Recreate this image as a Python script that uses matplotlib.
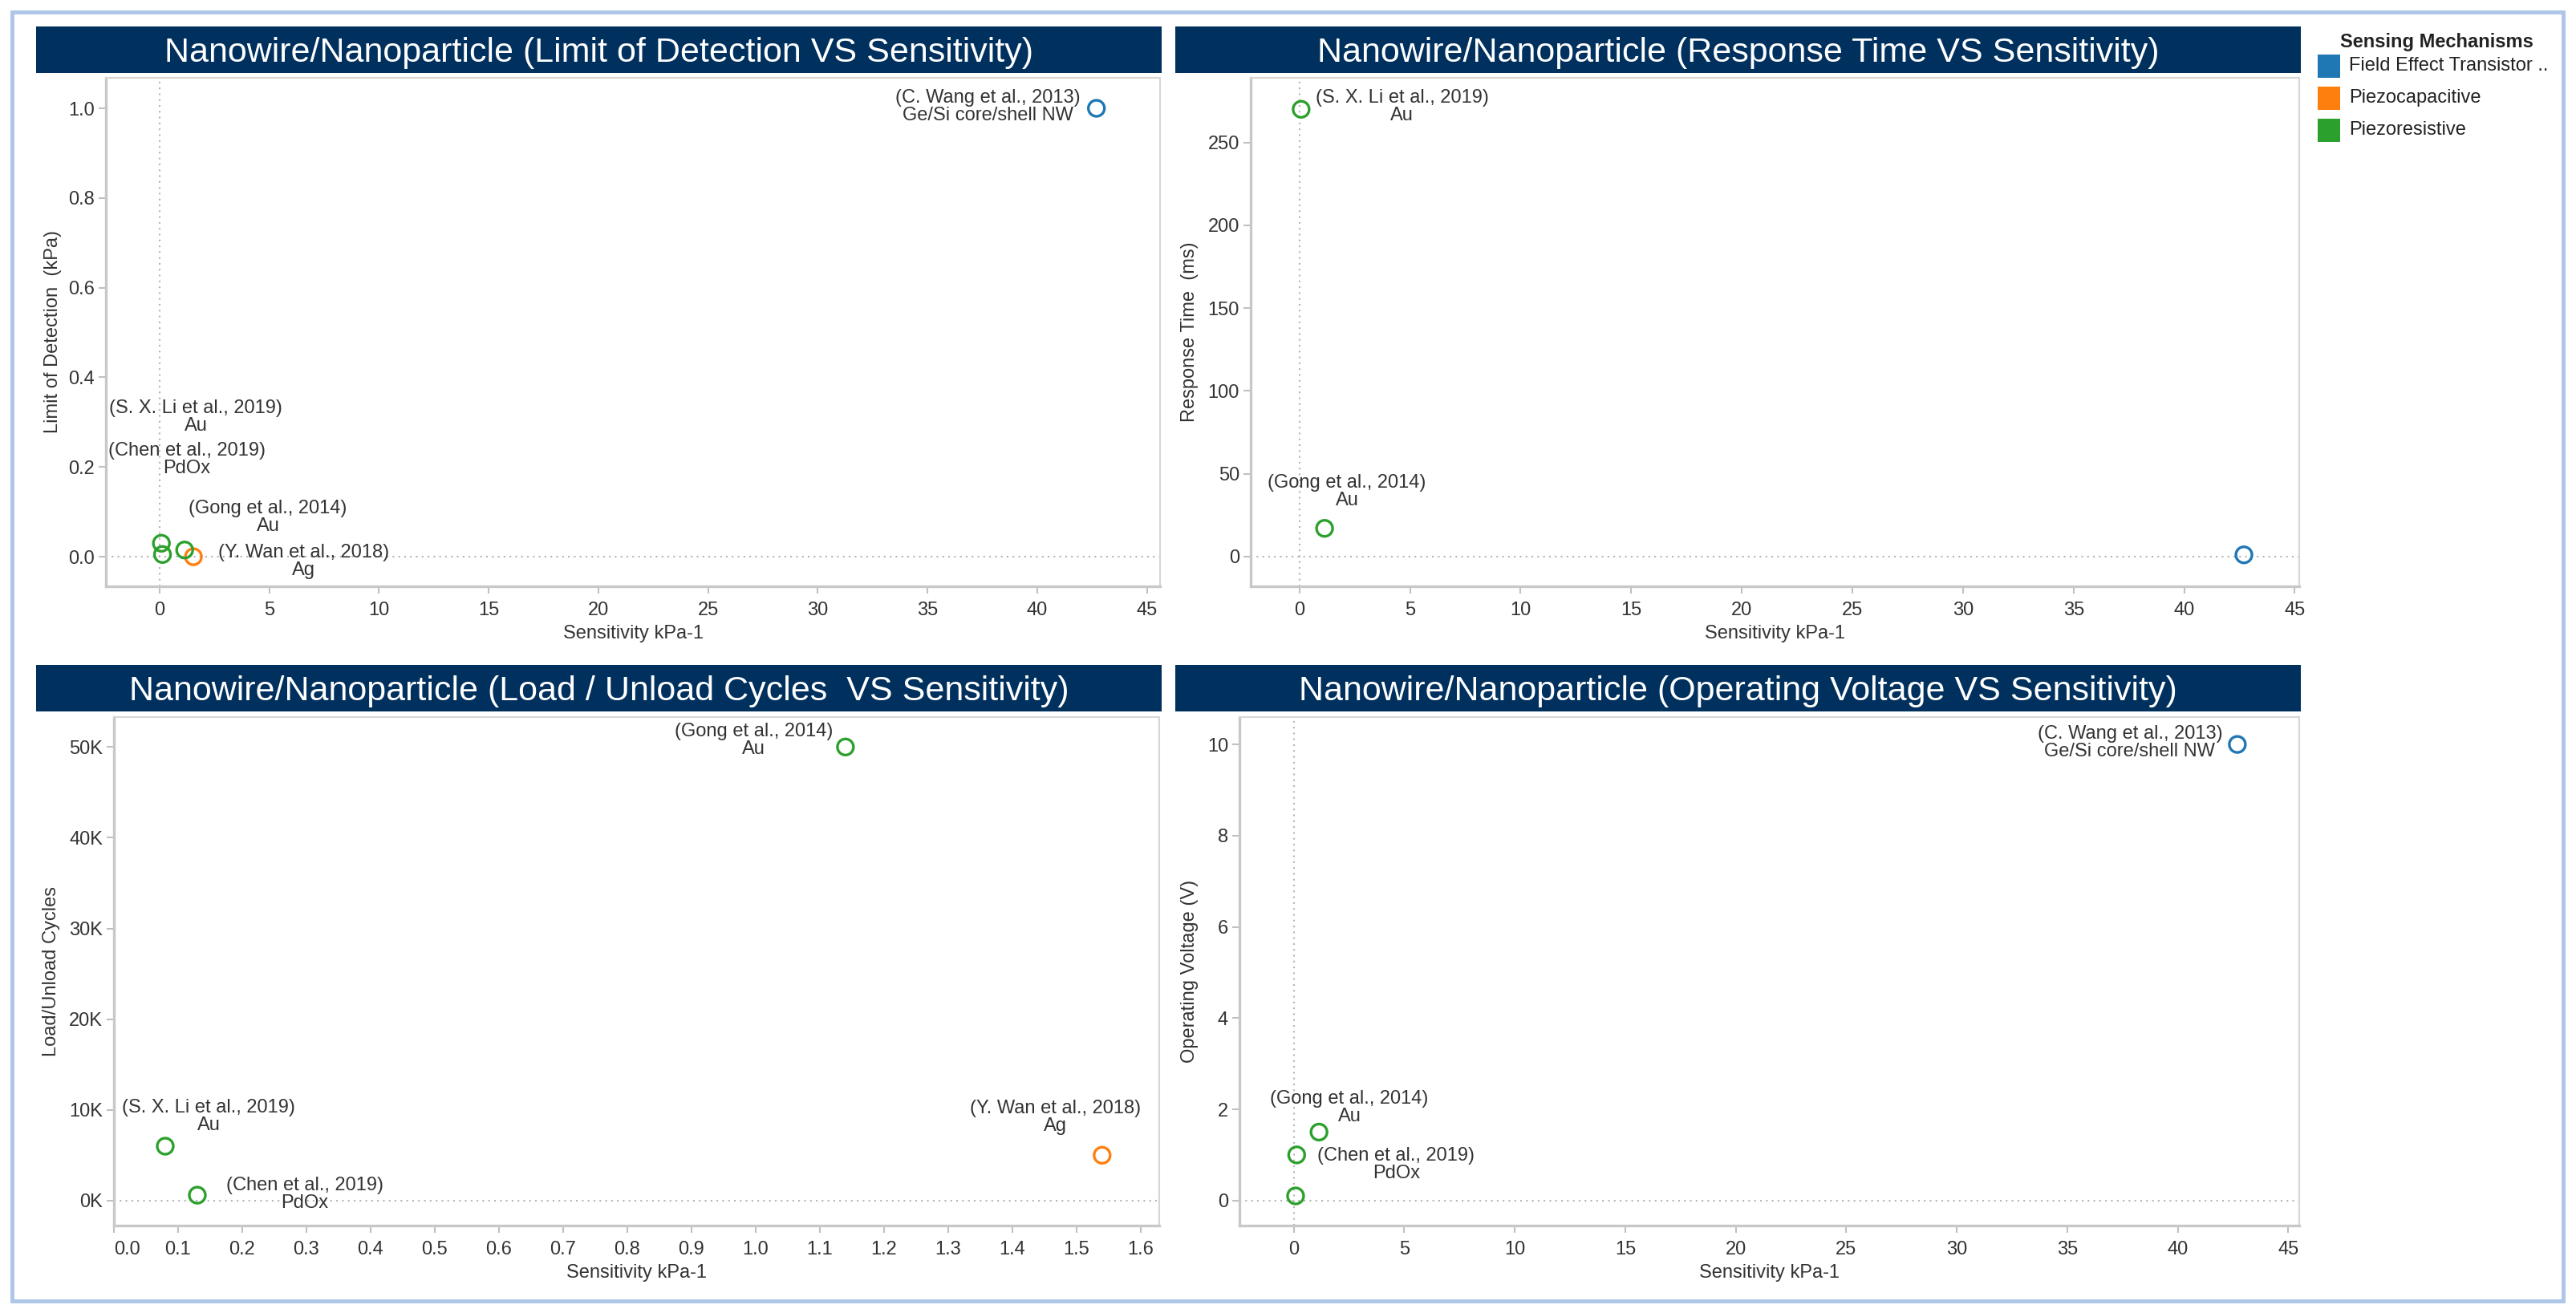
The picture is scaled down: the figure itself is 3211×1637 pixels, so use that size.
import matplotlib
matplotlib.use('Agg')
import matplotlib.pyplot as plt
from matplotlib.patches import Rectangle
from matplotlib.ticker import FixedLocator, FuncFormatter

plt.rcParams['font.family'] = ['Liberation Sans', 'DejaVu Sans']

# Sensing mechanisms (legend) and their colours
mechanisms = ['Field Effect Transistor ..', 'Piezocapacitive', 'Piezoresistive']
mech_colors = ['#1f77b4', '#ff7f0e', '#2ca02c']

# Limit of Detection vs Sensitivity
lod_refs = ['(C. Wang et al., 2013)', '(S. X. Li et al., 2019)', '(Chen et al., 2019)',
            '(Gong et al., 2014)', '(Y. Wan et al., 2018)']
lod_mat = ['Ge/Si core/shell NW', 'Au', 'PdOx', 'Au', 'Ag']
lod_mech = [0, 2, 2, 2, 1]
lod_sens = [42.7, 0.08, 0.13, 1.14, 1.54]
lod_val = [1.0, 0.03, 0.005, 0.015, 0.0]

# Response Time vs Sensitivity
rt_refs = [None, '(S. X. Li et al., 2019)', '(Gong et al., 2014)']
rt_mat = [None, 'Au', 'Au']
rt_mech = [0, 2, 2]
rt_sens = [42.7, 0.08, 1.14]
rt_val = [1, 270, 17]

# Load / Unload Cycles vs Sensitivity
lc_refs = ['(S. X. Li et al., 2019)', '(Chen et al., 2019)', '(Gong et al., 2014)', '(Y. Wan et al., 2018)']
lc_mat = ['Au', 'PdOx', 'Au', 'Ag']
lc_mech = [2, 2, 2, 1]
lc_sens = [0.08, 0.13, 1.14, 1.54]
lc_val = [6000, 600, 50000, 5000]

# Operating Voltage vs Sensitivity
ov_refs = ['(C. Wang et al., 2013)', None, '(Chen et al., 2019)', '(Gong et al., 2014)']
ov_mat = ['Ge/Si core/shell NW', None, 'PdOx', 'Au']
ov_mech = [0, 2, 2, 2]
ov_sens = [42.7, 0.08, 0.13, 1.14]
ov_val = [10, 0.1, 1.0, 1.5]

# label offsets from the mark (pixels, x right / y up)
lod_off = [(-135, 2), (43, 157), (30, 118), (104, 41), (137, -6)]
rt_off = [None, (126, 3), (28, 46)]
lc_off = [(54, 37), (134, 1), (-114, 8), (-58, 47)]
ov_off = [(-134, 2), None, (124, -12), (38, 30)]

W, H = 3211, 1637
fig = plt.figure(figsize=(W / 100, H / 100), dpi=100)

TXT = '#333333'
FS = 17


def fx(px):
    return px / W


def fy(py):
    return 1 - py / H


def title_bar(x0, x1, y0, y1, text):
    fig.patches.append(Rectangle((fx(x0), fy(y1)), fx(x1 - x0), (y1 - y0) / H,
                                 transform=fig.transFigure, facecolor='#00305e',
                                 edgecolor='none', zorder=1))
    fig.text(fx((x0 + x1) / 2), fy((y0 + y1) / 2), text, color='white', fontsize=31,
             ha='center', va='center_baseline')


def panel(box, sens, vals, mech, refs, mats, offs, xlim, ylim, xticks, yticks,
          xfmt, yfmt, ylabel, ylab_x, vline=True):
    x0, y0, x1, y1 = box
    ax = fig.add_axes([fx(x0), fy(y1), fx(x1 - x0), (y1 - y0) / H])
    ax.set_xlim(*xlim)
    ax.set_ylim(*ylim)
    ax.axhline(0, color='#b5b5b5', lw=1.5, ls=(0, (1, 2.5)), zorder=1)
    if vline:
        ax.axvline(0, color='#b5b5b5', lw=1.5, ls=(0, (1, 2.5)), zorder=1)
    for m in range(len(mechanisms)):
        xs = [s for s, k in zip(sens, mech) if k == m]
        ys = [v for v, k in zip(vals, mech) if k == m]
        if xs:
            ax.scatter(xs, ys, s=14.4 ** 2, facecolors='none', edgecolors=mech_colors[m],
                       linewidths=2.4, zorder=3, clip_on=False)
    for s, v, r, mt, o in zip(sens, vals, refs, mats, offs):
        if r is None:
            continue
        ax.annotate(r + '\n' + mt, xy=(s, v), xytext=o, textcoords='offset pixels',
                    ha='center', va='center', multialignment='center',
                    fontsize=FS, color=TXT, linespacing=1.0, zorder=4)
    ax.xaxis.set_major_locator(FixedLocator(xticks))
    ax.yaxis.set_major_locator(FixedLocator(yticks))
    ax.xaxis.set_major_formatter(FuncFormatter(xfmt))
    ax.yaxis.set_major_formatter(FuncFormatter(yfmt))
    ax.tick_params(axis='both', colors='#c0c0c0', labelcolor=TXT, labelsize=FS,
                   length=6.5, width=1.5, direction='out')
    ax.tick_params(axis='x', pad=7)
    ax.tick_params(axis='y', pad=3.5)
    for side in ['left', 'bottom']:
        ax.spines[side].set_color('#c8c8c8')
        ax.spines[side].set_linewidth(2.4)
    for side in ['top', 'right']:
        ax.spines[side].set_color('#d6d6d6')
        ax.spines[side].set_linewidth(1.5)
    ax.set_xlabel('Sensitivity kPa-1', fontsize=FS, color=TXT)
    ax.xaxis.set_label_coords(0.5, -59 / (y1 - y0))
    ax.xaxis.label.set_va('center')
    ax.set_ylabel(ylabel, fontsize=FS, color=TXT)
    ax.yaxis.set_label_coords(ylab_x, 0.5)
    ax.yaxis.label.set_va('center')
    return ax


def f_int(v, pos):
    return f'{v:g}'


def f_1(v, pos):
    return f'{v:.1f}'


def f_k(v, pos):
    return f'{int(v / 1000)}K'


sens_ticks = list(range(0, 50, 5))

title_bar(45, 1448, 33, 91, 'Nanowire/Nanoparticle (Limit of Detection VS Sensitivity)')
panel((132, 97, 1446, 731), lod_sens, lod_val, lod_mech, lod_refs, lod_mat, lod_off,
      (-2.45, 45.6), (-0.066, 1.068), sens_ticks, [0, 0.2, 0.4, 0.6, 0.8, 1.0],
      f_int, f_1, 'Limit of Detection  (kPa)', -0.050)

title_bar(1465, 2868, 33, 91, 'Nanowire/Nanoparticle (Response Time VS Sensitivity)')
panel((1559, 97, 2866, 731), rt_sens, rt_val, rt_mech, rt_refs, rt_mat, rt_off,
      (-2.2, 45.2), (-18, 289), sens_ticks, [0, 50, 100, 150, 200, 250],
      f_int, f_int, 'Response Time  (ms)', -0.058)

title_bar(45, 1448, 829, 887, 'Nanowire/Nanoparticle (Load / Unload Cycles  VS Sensitivity)')
ax3 = panel((142, 894, 1445, 1528), lc_sens, lc_val, lc_mech, lc_refs, lc_mat, lc_off,
            (0.0, 1.629), (-2750, 53300), [i / 10 for i in range(17)],
            [0, 10000, 20000, 30000, 40000, 50000],
            f_1, f_k, 'Load/Unload Cycles', -0.060, vline=False)
ax3.get_xticklabels()[0].set_horizontalalignment('left')

title_bar(1465, 2868, 829, 887, 'Nanowire/Nanoparticle (Operating Voltage VS Sensitivity)')
panel((1545, 894, 2866, 1528), ov_sens, ov_val, ov_mech, ov_refs, ov_mat, ov_off,
      (-2.46, 45.5), (-0.55, 10.6), sens_ticks, [0, 2, 4, 6, 8, 10],
      f_int, f_int, 'Operating Voltage (V)', -0.047)

# legend
fig.text(fx(3037), fy(52), 'Sensing Mechanisms', fontsize=FS, fontweight='bold',
         color='#222222', ha='center', va='center')
for i, (name, col) in enumerate(zip(mechanisms, mech_colors)):
    top = 68 + 40 * i
    fig.patches.append(Rectangle((fx(2889), fy(top + 29)), fx(28), 29 / H,
                                 transform=fig.transFigure, facecolor=col, edgecolor='none'))
    fig.text(fx(2928), fy(top + 14), name, fontsize=FS, color='#222222',
             ha='left', va='center')

# outer frame
fig.patches.append(Rectangle((fx(15), fy(1622)), fx(3195 - 15), (1622 - 15) / H,
                             transform=fig.transFigure, facecolor='none',
                             edgecolor='#aec7e8', linewidth=3.6))

fig.savefig('out.png', dpi=100, facecolor='white')
